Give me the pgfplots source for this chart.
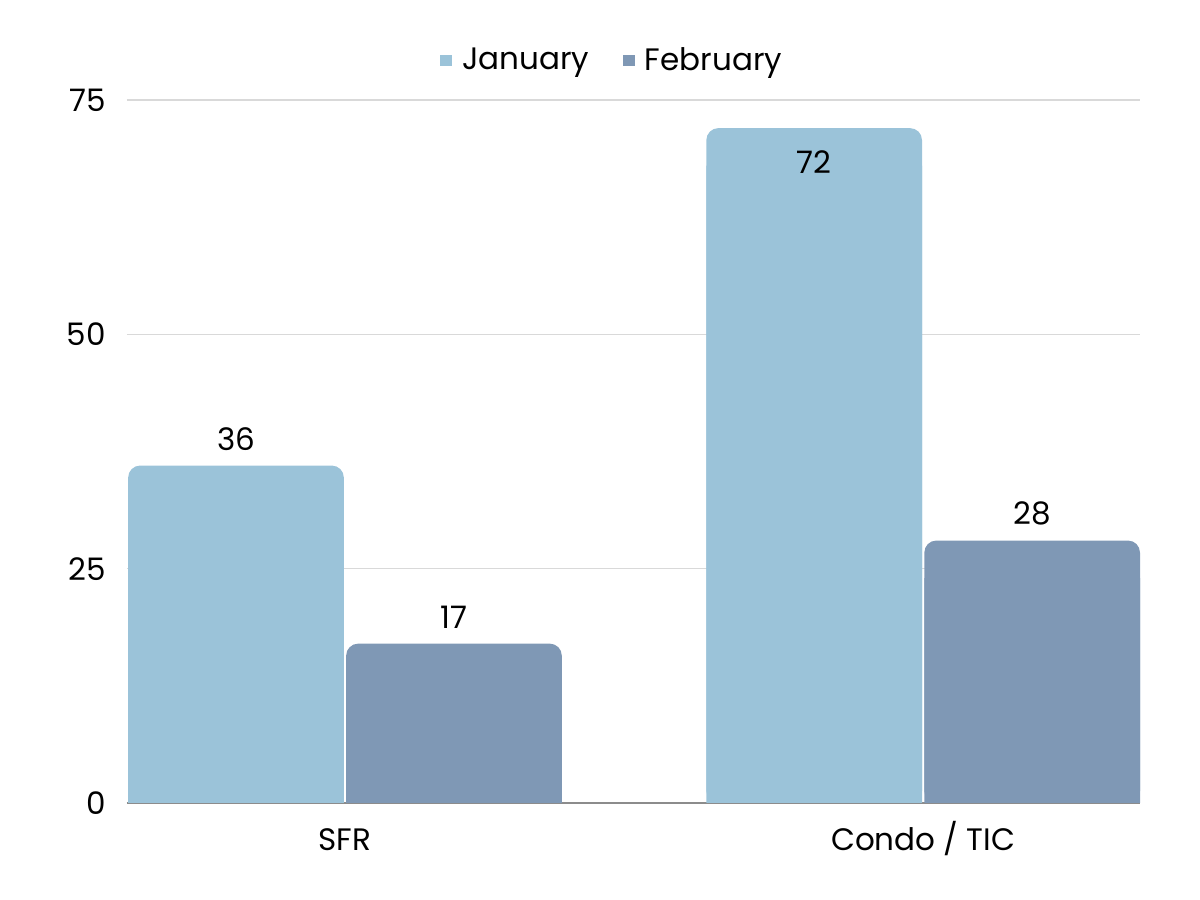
\documentclass[border=0pt]{standalone}
\usepackage{pgfplots}
\pgfplotsset{compat=1.18}
\usepackage{fontspec}
\setmainfont{Poppins}
\definecolor{jan}{HTML}{9BC3D9}
\definecolor{feb}{HTML}{7F98B5}
\definecolor{gridc}{HTML}{D9D9D9}
\newcommand{\chartfont}{\fontsize{15.5pt}{18pt}\selectfont}
\begin{document}
\begin{tikzpicture}
\path[use as bounding box] (-63.5pt,-48.5pt) rectangle (536.5pt,401.5pt);
\begin{axis}[
  at={(0,0)}, anchor=south west,
  scale only axis, width=506.5pt, height=351.5pt,
  xmin=-0.377, xmax=1.375,
  ymin=0, ymax=75,
  ytick={0,25,50,75},
  xtick={0,1}, xticklabels={SFR, Condo / TIC},
  /pgf/number format/assume math mode=true,
  tick label style={font=\chartfont, text=black},
  yticklabel style={xshift=-7pt},
  xticklabel style={text height=14pt, yshift=-6pt},
  major tick length=0pt,
  axis x line*=bottom, axis y line*=left,
  x axis line style={-, draw=black!45, line width=0.7pt},
  y axis line style={draw=none},
  ymajorgrids, major grid style={draw=gridc, line width=0.6pt},
  ybar, bar width=0.373,
  point meta=explicit symbolic,
  nodes near coords,
  every node near coord/.append style={font=\chartfont, text=black},
  legend style={at={(0.48,1)}, anchor=south, yshift=9pt, draw=none, fill=none,
    font=\chartfont, legend columns=2,
    /tikz/every even column/.append style={column sep=15pt}},
  legend cell align=left,
]
\addlegendimage{legend image code/.code={\fill[jan] (0pt,-2.6pt) rectangle (5.2pt,2.6pt); \node[inner sep=0pt, minimum size=0pt, draw=none] at (8.5pt,0pt) {};}}
\addlegendentry{January}
\addlegendimage{legend image code/.code={\fill[feb] (0pt,-2.6pt) rectangle (5.2pt,2.6pt); \node[inner sep=0pt, minimum size=0pt, draw=none] at (8.5pt,0pt) {};}}
\addlegendentry{February}
% January: rounded tops
\addplot[fill=jan, draw=none, rounded corners=6pt, bar shift=-0.1885,
  coordinate style/.condition={\coordindex==1}{anchor=north, yshift=-7.5pt},
  coordinate style/.condition={\coordindex==0}{yshift=4pt},
  forget plot]
  coordinates {(0,36) [36] (1,72) [72]};
% square off the bottom corners of the January bars
\addplot[fill=jan, draw=none, sharp corners, bar shift=-0.1885,
  y filter/.expression={y-4}, forget plot]
  coordinates {(0,36) [] (1,72) []};
% February: rounded tops
\addplot[fill=feb, draw=none, rounded corners=6pt, bar shift=0.1885,
  every node near coord/.append style={yshift=4pt},
  forget plot]
  coordinates {(0,17) [17] (1,28) [28]};
% square off the bottom corners of the February bars
\addplot[fill=feb, draw=none, sharp corners, bar shift=0.1885,
  y filter/.expression={y-4}, forget plot]
  coordinates {(0,17) [] (1,28) []};
\end{axis}
\end{tikzpicture}
\end{document}
